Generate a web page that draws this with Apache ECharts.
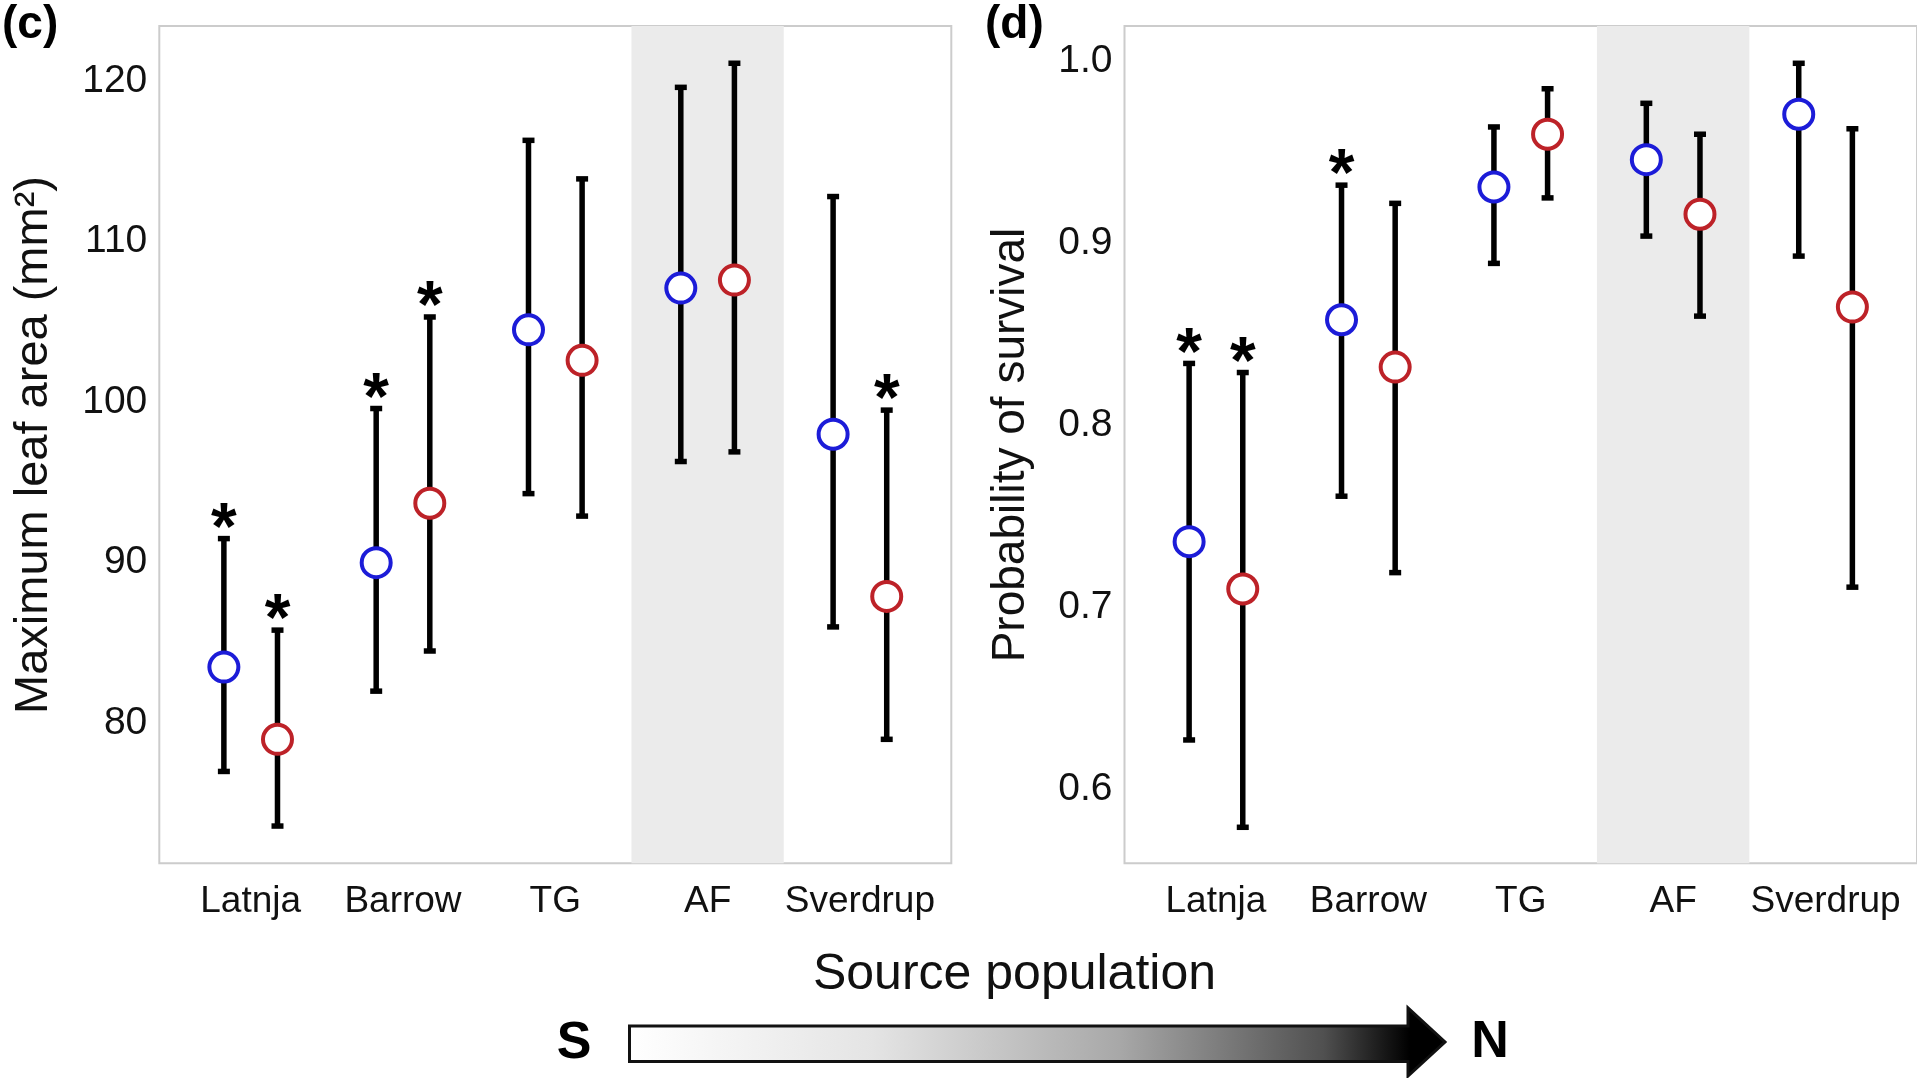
<!DOCTYPE html>
<html>
<head>
<meta charset="utf-8">
<title>Leaf area and survival by source population</title>
<script src="https://cdn.jsdelivr.net/npm/echarts@6/dist/echarts.min.js"></script>
<style>
  html, body { margin: 0; padding: 0; background: #ffffff; }
  #chart { width: 1917px; height: 1078px; }
</style>
</head>
<body>
<div id="chart"></div>
<script>
// Source populations, ordered south to north
const categories = ['Latnja', 'Barrow', 'TG', 'AF', 'Sverdrup'];

// (c) Maximum leaf area (mm²): estimate with lower / upper interval
const leafMeanBlue = [83.5, 90.0, 104.5, 107.1, 98.0];
const leafLowBlue  = [77.0, 82.0, 94.3, 96.3, 86.0];
const leafHighBlue = [91.5, 99.6, 116.3, 119.6, 112.8];
const leafMeanRed  = [79.0, 93.7, 102.6, 107.6, 87.9];
const leafLowRed   = [73.6, 84.5, 92.9, 96.9, 79.0];
const leafHighRed  = [85.8, 105.3, 113.9, 121.1, 99.5];
const leafStarBlue = [true, true, false, false, false];
const leafStarRed  = [true, true, false, false, true];
const leafTicks = [80, 90, 100, 110, 120];

// (d) Probability of survival: estimate with lower / upper interval
const survMeanBlue = [0.736, 0.858, 0.931, 0.946, 0.971];
const survLowBlue  = [0.627, 0.761, 0.889, 0.904, 0.893];
const survHighBlue = [0.834, 0.932, 0.964, 0.977, 0.999];
const survMeanRed  = [0.710, 0.832, 0.960, 0.916, 0.865];
const survLowRed   = [0.579, 0.719, 0.925, 0.860, 0.711];
const survHighRed  = [0.829, 0.922, 0.985, 0.960, 0.963];
const survStarBlue = [true, true, false, false, false];
const survStarRed  = [true, false, false, false, false];
const survTicks = [0.6, 0.7, 0.8, 0.9, 1.0];

// Highlighted population band (AF)
const shadedCategory = 'AF';

const BLUE = '#1c1cd8';
const RED = '#bd2228';
const FONT = '"Liberation Sans", Arial, Helvetica, sans-serif';
const DODGE = 0.176;

function pos(i, side) { return i + 1 + side * DODGE; }

function barData(low, high, side) {
  return low.map((lo, i) => [pos(i, side), lo, high[i]]);
}
function pointData(mean, side) {
  return mean.map((m, i) => [pos(i, side), m]);
}
function starData(flags, high, side) {
  const out = [];
  flags.forEach((f, i) => { if (f) out.push([pos(i, side), high[i]]); });
  return out;
}

function renderErrorBar(params, api) {
  const x = api.value(0);
  const top = api.coord([x, api.value(2)]);
  const bot = api.coord([x, api.value(1)]);
  const cap = 6;
  const st = { stroke: '#000', lineWidth: 5.5 };
  return {
    type: 'group',
    children: [
      { type: 'line', shape: { x1: top[0], y1: top[1], x2: bot[0], y2: bot[1] }, style: st },
      { type: 'line', shape: { x1: top[0] - cap, y1: top[1], x2: top[0] + cap, y2: top[1] }, style: st },
      { type: 'line', shape: { x1: bot[0] - cap, y1: bot[1], x2: bot[0] + cap, y2: bot[1] }, style: st }
    ]
  };
}

function renderStar(params, api) {
  const p = api.coord([api.value(0), api.value(1)]);
  return {
    type: 'text',
    x: p[0],
    y: p[1] - 8,
    style: {
      text: '*',
      fontFamily: FONT,
      fontSize: 66,
      fontWeight: 'bold',
      fill: '#000',
      align: 'center',
      verticalAlign: 'middle'
    }
  };
}

function panelSeries(g, mb, lb, hb, mr, lr, hr, sb, sr) {
  const idx = categories.indexOf(shadedCategory) + 1;
  return [
    {
      type: 'scatter', xAxisIndex: g, yAxisIndex: g, data: [], z: 1, silent: true,
      markArea: {
        silent: true,
        itemStyle: { color: '#ebebeb' },
        data: [[{ xAxis: idx - 0.5 }, { xAxis: idx + 0.5 }]]
      }
    },
    { type: 'custom', xAxisIndex: g, yAxisIndex: g, z: 3, renderItem: renderErrorBar, data: barData(lb, hb, -1), silent: true },
    { type: 'custom', xAxisIndex: g, yAxisIndex: g, z: 3, renderItem: renderErrorBar, data: barData(lr, hr, 1), silent: true },
    {
      type: 'scatter', xAxisIndex: g, yAxisIndex: g, z: 4, symbol: 'circle', symbolSize: 29,
      itemStyle: { color: '#ffffff', borderColor: BLUE, borderWidth: 4, opacity: 1 },
      data: pointData(mb, -1), silent: true
    },
    {
      type: 'scatter', xAxisIndex: g, yAxisIndex: g, z: 4, symbol: 'circle', symbolSize: 29,
      itemStyle: { color: '#ffffff', borderColor: RED, borderWidth: 4, opacity: 1 },
      data: pointData(mr, 1), silent: true
    },
    { type: 'custom', xAxisIndex: g, yAxisIndex: g, z: 5, renderItem: renderStar, data: starData(sb, hb, -1), silent: true },
    { type: 'custom', xAxisIndex: g, yAxisIndex: g, z: 5, renderItem: renderStar, data: starData(sr, hr, 1), silent: true }
  ];
}

function xAxisFor(g) {
  return {
    type: 'value', gridIndex: g, min: 0.4, max: 5.6,
    axisLine: { show: false }, axisTick: { show: false }, splitLine: { show: false },
    axisLabel: {
      customValues: [1, 2, 3, 4, 5],
      formatter: (v) => categories[Math.round(v) - 1] || '',
      fontFamily: FONT, fontSize: 37, color: '#111', margin: 20
    }
  };
}

function yAxisFor(g, min, max, ticks, fmt) {
  return {
    type: 'value', gridIndex: g, min: min, max: max,
    axisLine: { show: false }, axisTick: { show: false }, splitLine: { show: false },
    axisLabel: {
      customValues: ticks,
      formatter: fmt,
      fontFamily: FONT, fontSize: 39, color: '#111', margin: 12
    }
  };
}

const chart = echarts.init(document.getElementById('chart'), null, { renderer: 'canvas' });

const option = {
  backgroundColor: '#ffffff',
  animation: false,
  grid: [
    { left: 159.3, top: 26, width: 792, height: 837.3, show: true, borderColor: '#cccccc', borderWidth: 2, backgroundColor: 'transparent' },
    { left: 1124.5, top: 26, width: 795, height: 837.3, show: true, borderColor: '#cccccc', borderWidth: 2, backgroundColor: 'transparent' }
  ],
  xAxis: [xAxisFor(0), xAxisFor(1)],
  yAxis: [
    yAxisFor(0, 71.28, 123.42, leafTicks, (v) => String(Math.round(v))),
    yAxisFor(1, 0.5592, 1.0195, survTicks, (v) => v.toFixed(1))
  ],
  series: [
    ...panelSeries(0, leafMeanBlue, leafLowBlue, leafHighBlue, leafMeanRed, leafLowRed, leafHighRed, leafStarBlue, leafStarRed),
    ...panelSeries(1, survMeanBlue, survLowBlue, survHighBlue, survMeanRed, survLowRed, survHighRed, survStarBlue, survStarRed)
  ],
  graphic: [
    { type: 'text', left: 2, top: 2, style: { text: '(c)', font: 'bold 46px ' + FONT, fill: '#000' } },
    { type: 'text', left: 985, top: 2, style: { text: '(d)', font: 'bold 46px ' + FONT, fill: '#000' } },
    {
      type: 'text', x: 34, y: 445, rotation: Math.PI / 2,
      style: { text: 'Maximum leaf area (mm²)', font: '47px ' + FONT, fill: '#111', align: 'center', verticalAlign: 'middle' }
    },
    {
      type: 'text', x: 1011, y: 445, rotation: Math.PI / 2,
      style: { text: 'Probability of survival', font: '46px ' + FONT, fill: '#111', align: 'center', verticalAlign: 'middle' }
    },
    {
      type: 'text', x: 1014.5, y: 975,
      style: { text: 'Source population', font: '50px ' + FONT, fill: '#111', align: 'center', verticalAlign: 'middle' }
    },
    {
      type: 'text', x: 574, y: 1044,
      style: { text: 'S', font: 'bold 52px ' + FONT, fill: '#000', align: 'center', verticalAlign: 'middle' }
    },
    {
      type: 'text', x: 1490, y: 1043,
      style: { text: 'N', font: 'bold 52px ' + FONT, fill: '#000', align: 'center', verticalAlign: 'middle' }
    },
    {
      type: 'polygon',
      shape: {
        points: [[629.5, 1026], [1408, 1026], [1408, 1008], [1445, 1042], [1408, 1076], [1408, 1061.5], [629.5, 1061.5]]
      },
      style: {
        fill: new echarts.graphic.LinearGradient(0, 0, 1, 0, [
          { offset: 0, color: '#ffffff' },
          { offset: 0.3, color: '#e4e4e4' },
          { offset: 0.6, color: '#a8a8a8' },
          { offset: 0.85, color: '#505050' },
          { offset: 0.955, color: '#000000' },
          { offset: 1, color: '#000000' }
        ]),
        stroke: '#111',
        lineWidth: 3
      }
    }
  ]
};

chart.setOption(option);
</script>
</body>
</html>
